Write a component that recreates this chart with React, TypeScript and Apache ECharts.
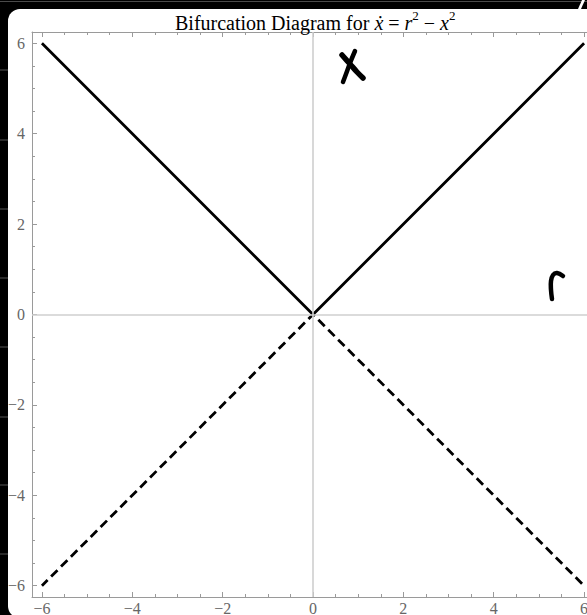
import React, { useEffect, useRef } from "react";
import * as echarts from "echarts";

// Fixed points of x' = r^2 - x^2 are x* = ±r; along r they form two crossing branches.
const rValues = [-6, 0, 6];
const upperBranch = [6, 0, 6]; // drawn solid
const lowerBranch = [-6, 0, -6]; // drawn dashed

const majorTicks = [-6, -4, -2, 0, 2, 4, 6];
const minorTicks = [
  -6, -5.5, -5, -4.5, -4, -3.5, -3, -2.5, -2, -1.5, -1, -0.5, 0,
  0.5, 1, 1.5, 2, 2.5, 3, 3.5, 4, 4.5, 5, 5.5, 6,
];
const rRange = [-6.22, 6.22];
const xRange = [-6.25, 6.25];

const SERIF = '"Liberation Serif", "Times New Roman", serif';
const FRAME = "#9a9a9a";
const LABEL = "#666666";

const fmt = (v: number) => String(v).replace("-", "\u2212");

function frameAxis(
  range: number[],
  position: string,
  ticks: number[],
  tickLen: number,
  showLine: boolean,
  showLabels: boolean,
  labelMargin: number
) {
  return {
    type: "value",
    min: range[0],
    max: range[1],
    position,
    splitLine: { show: false },
    axisLine: { show: showLine, onZero: false, lineStyle: { color: FRAME, width: 1 } },
    axisTick: {
      show: true,
      inside: true,
      length: tickLen,
      customValues: ticks,
      lineStyle: { color: FRAME, width: 1 },
    },
    axisLabel: {
      show: showLabels,
      customValues: majorTicks,
      formatter: fmt,
      color: LABEL,
      fontFamily: SERIF,
      fontSize: 16,
      margin: labelMargin,
    },
  };
}

const stubYs = [70, 140, 209, 278, 347, 417, 485, 554];

export default function App() {
  const ref = useRef<HTMLDivElement>(null);

  useEffect(() => {
    if (!ref.current) return;
    const chart = echarts.init(ref.current, null, { renderer: "svg" });

    const ink = { stroke: "#000", lineWidth: 5, lineCap: "round", lineJoin: "round", fill: null };
    const base = { fontFamily: SERIF, color: "#000", fontWeight: "normal" };

    chart.setOption({
      animation: false,
      title: {
        text: "{n|Bifurcation Diagram for }{i|ẋ}{n| = }{i|r}{s|2}{n| − }{i|x}{s|2}",
        left: 170,
        top: 4,
        textStyle: {
          fontWeight: "normal",
          rich: {
            n: { ...base, fontSize: 20, lineHeight: 24, verticalAlign: "bottom" },
            i: { ...base, fontSize: 20, lineHeight: 24, fontStyle: "italic", verticalAlign: "bottom" },
            s: { ...base, fontSize: 13, lineHeight: 15, verticalAlign: "top" },
          },
        },
      },
      grid: { left: 32, top: 32, width: 562, height: 565, containLabel: false, outerBoundsMode: "none" },
      xAxis: [
        frameAxis(rRange, "bottom", majorTicks, 5, true, true, 3),
        frameAxis(rRange, "bottom", minorTicks, 3, false, false, 3),
        frameAxis(rRange, "top", majorTicks, 5, true, false, 4),
        frameAxis(rRange, "top", minorTicks, 3, false, false, 4),
      ],
      yAxis: [
        frameAxis(xRange, "left", majorTicks, 5, true, true, 7),
        frameAxis(xRange, "left", minorTicks, 3, false, false, 7),
        frameAxis(xRange, "right", majorTicks, 5, true, false, 7),
      ],
      series: [
        {
          type: "line",
          data: [],
          z: 1,
          symbol: "none",
          markLine: {
            silent: true,
            symbol: ["none", "none"],
            label: { show: false },
            lineStyle: { color: "#cfcfcf", width: 1.6, type: "solid" },
            data: [{ xAxis: 0 }, { yAxis: 0 }],
          },
        },
        {
          type: "line",
          data: rValues.map((r, i) => [r, lowerBranch[i]]),
          symbol: "none",
          showSymbol: false,
          z: 3,
          lineStyle: { color: "#000", width: 2.8, type: [9, 5], dashOffset: 1, join: "miter", cap: "butt" },
        },
        {
          type: "line",
          data: rValues.map((r, i) => [r, upperBranch[i]]),
          symbol: "none",
          showSymbol: false,
          z: 4,
          lineStyle: { color: "#000", width: 2.8, join: "miter" },
        },
      ],
      graphic: [
        { type: "line", shape: { x1: 0, y1: 1.5, x2: 587, y2: 1.5 }, style: { stroke: "#4a4a4a", lineWidth: 1 } },
        ...stubYs.map((y) => ({
          type: "line",
          shape: { x1: 0, y1: y, x2: 8, y2: y },
          style: { stroke: "#555", lineWidth: 1 },
        })),
        { type: "polygon", shape: { points: [[582, 0], [585, 0], [581, 9], [578, 9]] }, style: { fill: "#fff" } },
        // hand-written axis names
        { type: "polyline", shape: { points: [[342, 55], [350, 64], [357, 72], [363, 78]], smooth: 0.3 }, style: { ...ink, lineWidth: 5.5 } },
        { type: "polyline", shape: { points: [[355, 51], [350, 63], [346, 74], [343, 82]], smooth: 0.3 }, style: { ...ink, lineWidth: 4.5 } },
        { type: "polyline", shape: { points: [[552, 299], [551, 290], [551, 281], [553, 275], [557, 273], [563, 276]], smooth: 0.4 }, style: { ...ink, lineWidth: 4.5 } },
      ],
    });

    return () => chart.dispose();
  }, []);

  return (
    <div style={{ position: "fixed", left: 0, top: 0, width: 587, height: 615, background: "#000", overflow: "hidden" }}>
      <div
        style={{
          position: "absolute",
          left: 8,
          top: 9,
          width: 640,
          height: 609,
          background: "#fff",
          borderTopLeftRadius: 12,
          borderBottomLeftRadius: 12,
        }}
      />
      <div ref={ref} style={{ position: "absolute", left: 0, top: 0, width: 587, height: 615 }} />
    </div>
  );
}
